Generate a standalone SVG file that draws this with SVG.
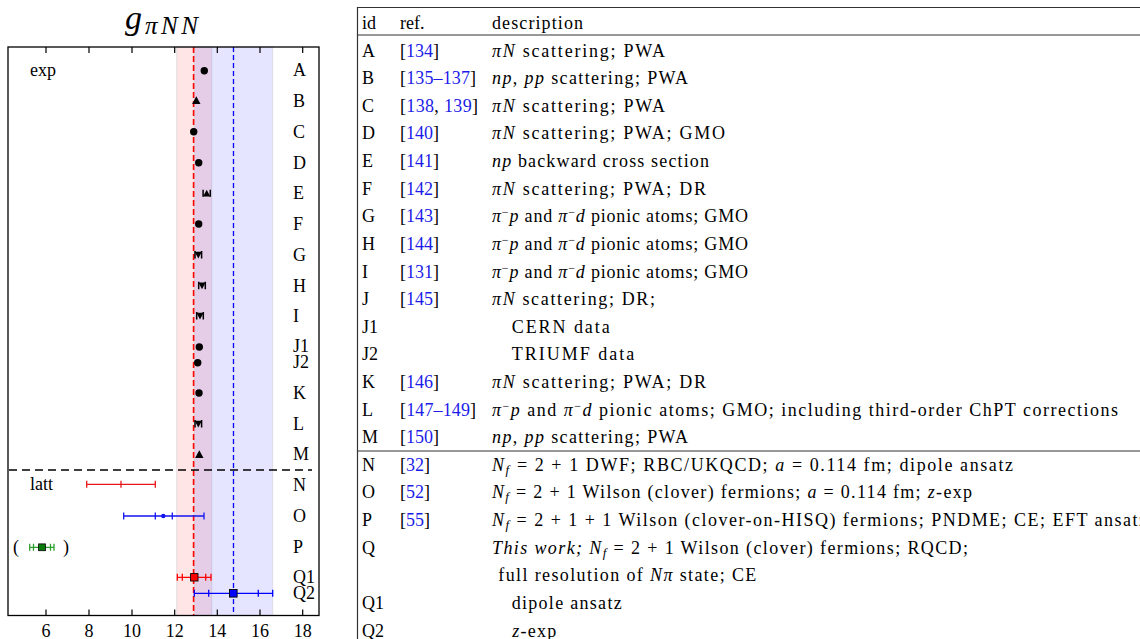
<svg xmlns="http://www.w3.org/2000/svg" xmlns:xlink="http://www.w3.org/1999/xlink" width="1140" height="639" viewBox="0 0 1140 639">
<style>
.t{font-family:"Liberation Serif","Times New Roman",serif;font-size:18px;fill:#000}
.i{font-style:italic}
.r{fill:#1c1ce8}
.sup{font-size:12px}
.sub{font-size:13px;font-style:italic}
.tick{stroke:#000;stroke-width:1.2}
.eb{fill:none;stroke-width:1.3}
</style>
<defs>
<g id="mk-circ"><circle r="3.7" fill="#000"/></g>
<g id="mk-up"><path d="M-4.2,3.4 L4.2,3.4 L0,-4.2 Z" fill="#000"/></g>
<g id="mk-upc"><path d="M-3.6,3.3 L3.6,3.3 L0,-3.6 Z" fill="#000"/><path d="M-3.6,-3.6 v7 M3.6,-3.6 v7" stroke="#000" stroke-width="1.5"/></g>
<g id="mk-down"><path d="M-3.6,-3.2 L3.6,-3.2 L0,3.6 Z" fill="#000"/><path d="M-3.3,-4 v7.5 M3.3,-4 v7.5" stroke="#000" stroke-width="1.5"/></g>
</defs>
<rect width="1140" height="639" fill="#fff"/>

<g id="plot">
  <text class="t i" x="125" y="29" style="font-size:34px">g</text>
  <text class="t i" x="145" y="34" style="font-size:25px" textLength="53">πNN</text>
  <rect x="176.7" y="47" width="35" height="568.5" fill="#ff0000" fill-opacity="0.1" stroke="#c8c8d0" stroke-opacity="0.5" stroke-width="1"/>
  <rect x="194.3" y="47" width="78.4" height="568.5" fill="#0000ff" fill-opacity="0.1" stroke="#c8c8d0" stroke-opacity="0.5" stroke-width="1"/>
  <line x1="193.6" y1="47" x2="193.6" y2="615.5" stroke="#ff0000" stroke-width="1.6" stroke-dasharray="6,3"/>
  <line x1="233.5" y1="47" x2="233.5" y2="615.5" stroke="#0000ff" stroke-width="1.3" stroke-dasharray="5,3"/>
  <line x1="9" y1="470" x2="312" y2="470" stroke="#000" stroke-width="1.5" stroke-dasharray="8,5"/>
  <rect x="8" y="47" width="311" height="568.5" fill="none" stroke="#000" stroke-width="1.3"/>
  <path class="tick" d="M46,47v6M89,47v6M132,47v6M174.7,47v6M217.3,47v6M260,47v6M302.7,47v6M46,615.5v-6M89,615.5v-6M132,615.5v-6M174.7,615.5v-6M217.3,615.5v-6M260,615.5v-6M302.7,615.5v-6"/>
  <g class="t" text-anchor="middle">
    <text x="46" y="637">6</text><text x="89" y="637">8</text><text x="132" y="637">10</text><text x="174.7" y="637">12</text><text x="217.3" y="637">14</text><text x="260" y="637">16</text><text x="302.7" y="637">18</text>
  </g>
  <text class="t" x="30" y="76">exp</text>
  <text class="t" x="30" y="490">latt</text>
  <g class="t">
    <text x="293" y="76">A</text><text x="293" y="106.5">B</text><text x="293" y="137.5">C</text><text x="293" y="168.5">D</text><text x="293" y="199">E</text><text x="293" y="230">F</text><text x="293" y="261">G</text><text x="293" y="291.5">H</text><text x="293" y="322">I</text><text x="293" y="352">J1</text><text x="293" y="367.5">J2</text><text x="293" y="398.5">K</text><text x="293" y="429.5">L</text><text x="293" y="460">M</text><text x="293" y="490.5">N</text><text x="293" y="522">O</text><text x="293" y="553">P</text><text x="293" y="583">Q1</text><text x="293" y="599">Q2</text>
  </g>
  <g id="exp-points">
    <use xlink:href="#mk-circ" x="204.3" y="70.7"/>
    <use xlink:href="#mk-up" x="196.3" y="100.5"/>
    <use xlink:href="#mk-circ" x="193.7" y="131.7"/>
    <use xlink:href="#mk-circ" x="198.7" y="162.7"/>
    <use xlink:href="#mk-upc" x="206.7" y="193.3"/>
    <use xlink:href="#mk-circ" x="198.7" y="224"/>
    <use xlink:href="#mk-down" x="198.3" y="255"/>
    <use xlink:href="#mk-down" x="202" y="285.7"/>
    <use xlink:href="#mk-down" x="200" y="316"/>
    <use xlink:href="#mk-circ" x="199.3" y="347"/>
    <use xlink:href="#mk-circ" x="197.7" y="362.7"/>
    <use xlink:href="#mk-circ" x="199" y="393"/>
    <use xlink:href="#mk-down" x="198.3" y="424"/>
    <use xlink:href="#mk-up" x="199.3" y="454.5"/>
  </g>
  <g id="latt-points">
    <path class="eb" stroke="#e8161b" d="M86.7,484.3H155.3M86.7,480.8v7M121,480.8v7M155.3,480.8v7"/>
    <path class="eb" stroke="#1515f0" d="M123.7,516H204M123.7,512.5v7M155.3,512.5v7M172.3,512.5v7M204,512.5v7"/>
    <circle cx="163.3" cy="516" r="2.2" fill="#1515f0"/>
    <path class="eb" stroke="#2ca02c" d="M29.7,547.3H54M29.7,543.8v7M33.5,543.8v7M50.5,543.8v7M54,543.8v7"/>
    <rect x="38.6" y="543.9" width="6.8" height="6.8" fill="#0a7a0a" stroke="#000" stroke-width="0.8"/>
    <text class="t" x="13" y="553">(</text>
    <text class="t" x="63" y="553">)</text>
    <path class="eb" stroke="#ff0000" d="M177.3,577.3H211M177.3,573.8v7M182.3,573.8v7M205.7,573.8v7M211,573.8v7"/>
    <rect x="190.6" y="573.6" width="7.4" height="7.4" fill="#ff0000" stroke="#000" stroke-width="0.9"/>
    <path class="eb" stroke="#0000ff" d="M194.3,593.3H272.7M194.3,589.8v7M208.7,589.8v7M258.3,589.8v7M272.7,589.8v7"/>
    <rect x="229.5" y="589.5" width="7.6" height="7.6" fill="#0000ff" stroke="#000" stroke-width="0.9"/>
  </g>
</g>

<g id="table">
  <path d="M357.5,7.5H1140M357.5,35H1140M357.5,451H1140" stroke="#333" stroke-width="1.2" fill="none"/>
  <line x1="357.5" y1="7" x2="357.5" y2="639" stroke="#333" stroke-width="1.2"/>
  <g class="t">
    <text x="362" y="28.5">id</text>
    <text x="400" y="28.5">ref.</text>
    <text x="492" y="28.5" textLength="91">description</text>

    <text x="362" y="56.5">A</text>
    <text x="400" y="56.5">[<tspan class="r">134</tspan>]</text>
    <text x="492" y="56.5" textLength="173"><tspan class="i">πN</tspan> scattering; PWA</text>

    <text x="362" y="84.1">B</text>
    <text x="400" y="84.1" textLength="76">[<tspan class="r">135–137</tspan>]</text>
    <text x="492" y="84.1" textLength="196"><tspan class="i">np</tspan>, <tspan class="i">pp</tspan> scattering; PWA</text>

    <text x="362" y="111.7">C</text>
    <text x="400" y="111.7" textLength="78">[<tspan class="r">138</tspan>, <tspan class="r">139</tspan>]</text>
    <text x="492" y="111.7" textLength="173"><tspan class="i">πN</tspan> scattering; PWA</text>

    <text x="362" y="139.4">D</text>
    <text x="400" y="139.4">[<tspan class="r">140</tspan>]</text>
    <text x="492" y="139.4" textLength="233"><tspan class="i">πN</tspan> scattering; PWA; GMO</text>

    <text x="362" y="167">E</text>
    <text x="400" y="167">[<tspan class="r">141</tspan>]</text>
    <text x="492" y="167" textLength="217"><tspan class="i">np</tspan> backward cross section</text>

    <text x="362" y="194.6">F</text>
    <text x="400" y="194.6">[<tspan class="r">142</tspan>]</text>
    <text x="492" y="194.6" textLength="214"><tspan class="i">πN</tspan> scattering; PWA; DR</text>

    <text x="362" y="222.2">G</text>
    <text x="400" y="222.2">[<tspan class="r">143</tspan>]</text>
    <text x="492" y="222.2" textLength="256"><tspan class="i">π</tspan><tspan class="sup" dy="-6">−</tspan><tspan class="i" dy="6">p</tspan> and <tspan class="i">π</tspan><tspan class="sup" dy="-6">−</tspan><tspan class="i" dy="6">d</tspan> pionic atoms; GMO</text>

    <text x="362" y="249.8">H</text>
    <text x="400" y="249.8">[<tspan class="r">144</tspan>]</text>
    <text x="492" y="249.8" textLength="256"><tspan class="i">π</tspan><tspan class="sup" dy="-6">−</tspan><tspan class="i" dy="6">p</tspan> and <tspan class="i">π</tspan><tspan class="sup" dy="-6">−</tspan><tspan class="i" dy="6">d</tspan> pionic atoms; GMO</text>

    <text x="362" y="277.5">I</text>
    <text x="400" y="277.5">[<tspan class="r">131</tspan>]</text>
    <text x="492" y="277.5" textLength="256"><tspan class="i">π</tspan><tspan class="sup" dy="-6">−</tspan><tspan class="i" dy="6">p</tspan> and <tspan class="i">π</tspan><tspan class="sup" dy="-6">−</tspan><tspan class="i" dy="6">d</tspan> pionic atoms; GMO</text>

    <text x="362" y="305.1">J</text>
    <text x="400" y="305.1">[<tspan class="r">145</tspan>]</text>
    <text x="492" y="305.1" textLength="163"><tspan class="i">πN</tspan> scattering; DR;</text>

    <text x="362" y="332.7">J1</text>
    <text x="511.7" y="332.7" textLength="98">CERN data</text>

    <text x="362" y="360.3">J2</text>
    <text x="511.7" y="360.3" textLength="122.6">TRIUMF data</text>

    <text x="362" y="387.9">K</text>
    <text x="400" y="387.9">[<tspan class="r">146</tspan>]</text>
    <text x="492" y="387.9" textLength="214"><tspan class="i">πN</tspan> scattering; PWA; DR</text>

    <text x="362" y="415.6">L</text>
    <text x="400" y="415.6" textLength="76">[<tspan class="r">147–149</tspan>]</text>
    <text x="492" y="415.6" textLength="626"><tspan class="i">π</tspan><tspan class="sup" dy="-6">−</tspan><tspan class="i" dy="6">p</tspan> and <tspan class="i">π</tspan><tspan class="sup" dy="-6">−</tspan><tspan class="i" dy="6">d</tspan> pionic atoms; GMO; including third-order ChPT corrections</text>

    <text x="362" y="443.2">M</text>
    <text x="400" y="443.2">[<tspan class="r">150</tspan>]</text>
    <text x="492" y="443.2" textLength="196"><tspan class="i">np</tspan>, <tspan class="i">pp</tspan> scattering; PWA</text>

    <text x="362" y="470.8">N</text>
    <text x="400" y="470.8">[<tspan class="r">32</tspan>]</text>
    <text x="492" y="470.8" textLength="521"><tspan class="i">N</tspan><tspan class="sub" dy="3">f</tspan><tspan dy="-3"> = 2 + 1 DWF; RBC/UKQCD; </tspan><tspan class="i">a</tspan> = 0.114 fm; dipole ansatz</text>

    <text x="362" y="498.4">O</text>
    <text x="400" y="498.4">[<tspan class="r">52</tspan>]</text>
    <text x="492" y="498.4" textLength="480"><tspan class="i">N</tspan><tspan class="sub" dy="3">f</tspan><tspan dy="-3"> = 2 + 1 Wilson (clover) fermions; </tspan><tspan class="i">a</tspan> = 0.114 fm; <tspan class="i">z</tspan>-exp</text>

    <text x="362" y="526">P</text>
    <text x="400" y="526">[<tspan class="r">55</tspan>]</text>
    <text x="492" y="526" textLength="655"><tspan class="i">N</tspan><tspan class="sub" dy="3">f</tspan><tspan dy="-3"> = 2 + 1 + 1 Wilson (clover-on-HISQ) fermions; PNDME; CE; EFT ansatz</tspan></text>

    <text x="362" y="553.7">Q</text>
    <text x="492" y="553.7" textLength="476"><tspan class="i">This work; N</tspan><tspan class="sub" dy="3">f</tspan><tspan dy="-3"> = 2 + 1 Wilson (clover) fermions; RQCD;</tspan></text>

    <text x="498.3" y="581.3" textLength="258">full resolution of <tspan class="i">Nπ</tspan> state; CE</text>

    <text x="362" y="608.9">Q1</text>
    <text x="511.7" y="608.9" textLength="110">dipole ansatz</text>

    <text x="362" y="636.5">Q2</text>
    <text x="512.3" y="636.5" textLength="44"><tspan class="i">z</tspan>-exp</text>
  </g>
</g>
</svg>
